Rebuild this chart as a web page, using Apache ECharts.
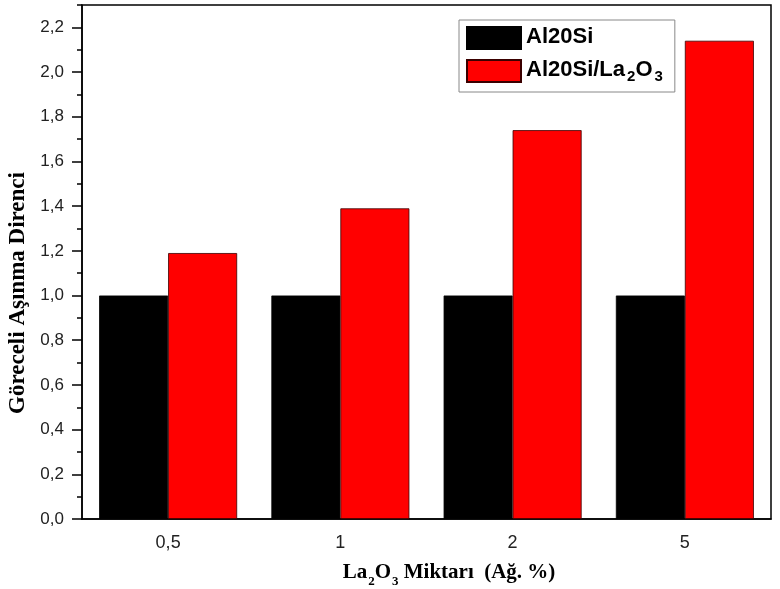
<!DOCTYPE html>
<html>
<head>
<meta charset="utf-8">
<title>Göreceli Aşınma Direnci</title>
<script src="https://cdn.jsdelivr.net/npm/echarts@6/dist/echarts.min.js"></script>
<style>
  html, body { margin: 0; padding: 0; background: #fff; }
  #main { width: 780px; height: 589px; }
</style>
</head>
<body>
<div id="main"></div>
<script type="text/javascript">
  // veriler
  var kategoriler = ['0,5', '1', '2', '5'];
  var al20si = [1.0, 1.0, 1.0, 1.0];
  var al20siLa = [1.19, 1.39, 1.74, 2.14];
  var yAnaTik = [0, 0.2, 0.4, 0.6, 0.8, 1.0, 1.2, 1.4, 1.6, 1.8, 2.0, 2.2];
  var yAraTik = [0.1, 0.3, 0.5, 0.7, 0.9, 1.1, 1.3, 1.5, 1.7, 1.9, 2.1, 2.3];

  var sans = '"Liberation Sans", Arial, sans-serif';
  var serif = '"Liberation Serif", "Times New Roman", serif';

  var myChart = echarts.init(document.getElementById('main'));

  var option = {
    animation: false,
    grid: {
      left: 82, right: 9, top: 5, bottom: 70,
      show: true, borderColor: '#000', borderWidth: 1.5, backgroundColor: '#fff'
    },
    legend: {
      orient: 'vertical',
      left: 459, top: 20,
      padding: [6, 12, 8, 7],
      itemWidth: 54, itemHeight: 22, itemGap: 9,
      icon: 'rect',
      backgroundColor: '#fff', borderColor: '#888', borderWidth: 1,
      textStyle: {
        fontFamily: sans, fontWeight: 'bold', fontSize: 22, color: '#000',
        rich: {
          b: { fontFamily: sans, fontWeight: 'bold', fontSize: 22, color: '#000', lineHeight: 24, verticalAlign: 'top' },
          s: { fontFamily: sans, fontWeight: 'bold', fontSize: 15, color: '#000', lineHeight: 14, padding: [10, 0, 0, 2], verticalAlign: 'top' }
        }
      },
      formatter: function (name) {
        if (name === 'Al20Si/La2O3') return '{b|Al20Si/La}{s|2}{b|O}{s|3}';
        return '{b|' + name + '}';
      },
      data: ['Al20Si', 'Al20Si/La2O3']
    },
    xAxis: [
      {
        type: 'category',
        data: kategoriler,
        axisLine: { lineStyle: { color: '#000', width: 1.5 } },
        axisTick: { alignWithLabel: true, length: 8, lineStyle: { color: '#000', width: 1.5 } },
        axisLabel: { fontFamily: sans, fontSize: 18, color: '#222', margin: 15 }
      },
      {
        type: 'category',
        data: kategoriler,
        position: 'bottom',
        axisLine: { show: false },
        axisTick: { length: 5, lineStyle: { color: '#000', width: 1.5 } },
        axisLabel: { show: false }
      }
    ],
    yAxis: [
      {
        type: 'value',
        min: 0, max: 2.3,
        splitLine: { show: false },
        axisLine: { show: true, lineStyle: { color: '#000', width: 1.5 } },
        axisTick: { show: true, length: 10, customValues: yAnaTik, lineStyle: { color: '#000', width: 1.5 } },
        axisLabel: {
          customValues: yAnaTik,
          fontFamily: sans, fontSize: 17, color: '#222', margin: 18,
          formatter: function (v) { return v.toFixed(1).replace('.', ','); }
        }
      },
      {
        type: 'value',
        min: 0, max: 2.3,
        position: 'left',
        splitLine: { show: false },
        axisLine: { show: false },
        axisTick: { show: true, length: 5, customValues: yAraTik, lineStyle: { color: '#000', width: 1.5 } },
        axisLabel: { show: false }
      }
    ],
    series: [
      {
        name: 'Al20Si',
        type: 'bar',
        data: al20si,
        barWidth: 69,
        barGap: '0%',
        itemStyle: { color: '#000', borderColor: '#000', borderWidth: 0.8 }
      },
      {
        name: 'Al20Si/La2O3',
        type: 'bar',
        data: al20siLa,
        barWidth: 69,
        barGap: '0%',
        itemStyle: { color: '#ff0000', borderColor: '#3a0000', borderWidth: 0.8 }
      }
    ],
    graphic: [
      {
        type: 'text',
        x: 18, y: 293,
        rotation: Math.PI / 2,
        style: {
          text: 'Göreceli Aşınma Direnci',
          font: 'bold 23px ' + serif,
          fill: '#000',
          align: 'center',
          verticalAlign: 'middle'
        }
      },
      {
        type: 'text',
        x: 449, y: 574,
        style: {
          text: '{b|La}{s|2}{b|O}{s|3}{b| Miktarı  (Ağ. %)}',
          align: 'center',
          verticalAlign: 'middle',
          fill: '#000',
          rich: {
            b: { font: 'bold 21px ' + serif, fill: '#000', lineHeight: 24, verticalAlign: 'top' },
            s: { font: 'bold 13px ' + serif, fill: '#000', lineHeight: 12, padding: [13, 0, 0, 1], verticalAlign: 'top' }
          }
        }
      }
    ]
  };

  myChart.setOption(option);
</script>
</body>
</html>
